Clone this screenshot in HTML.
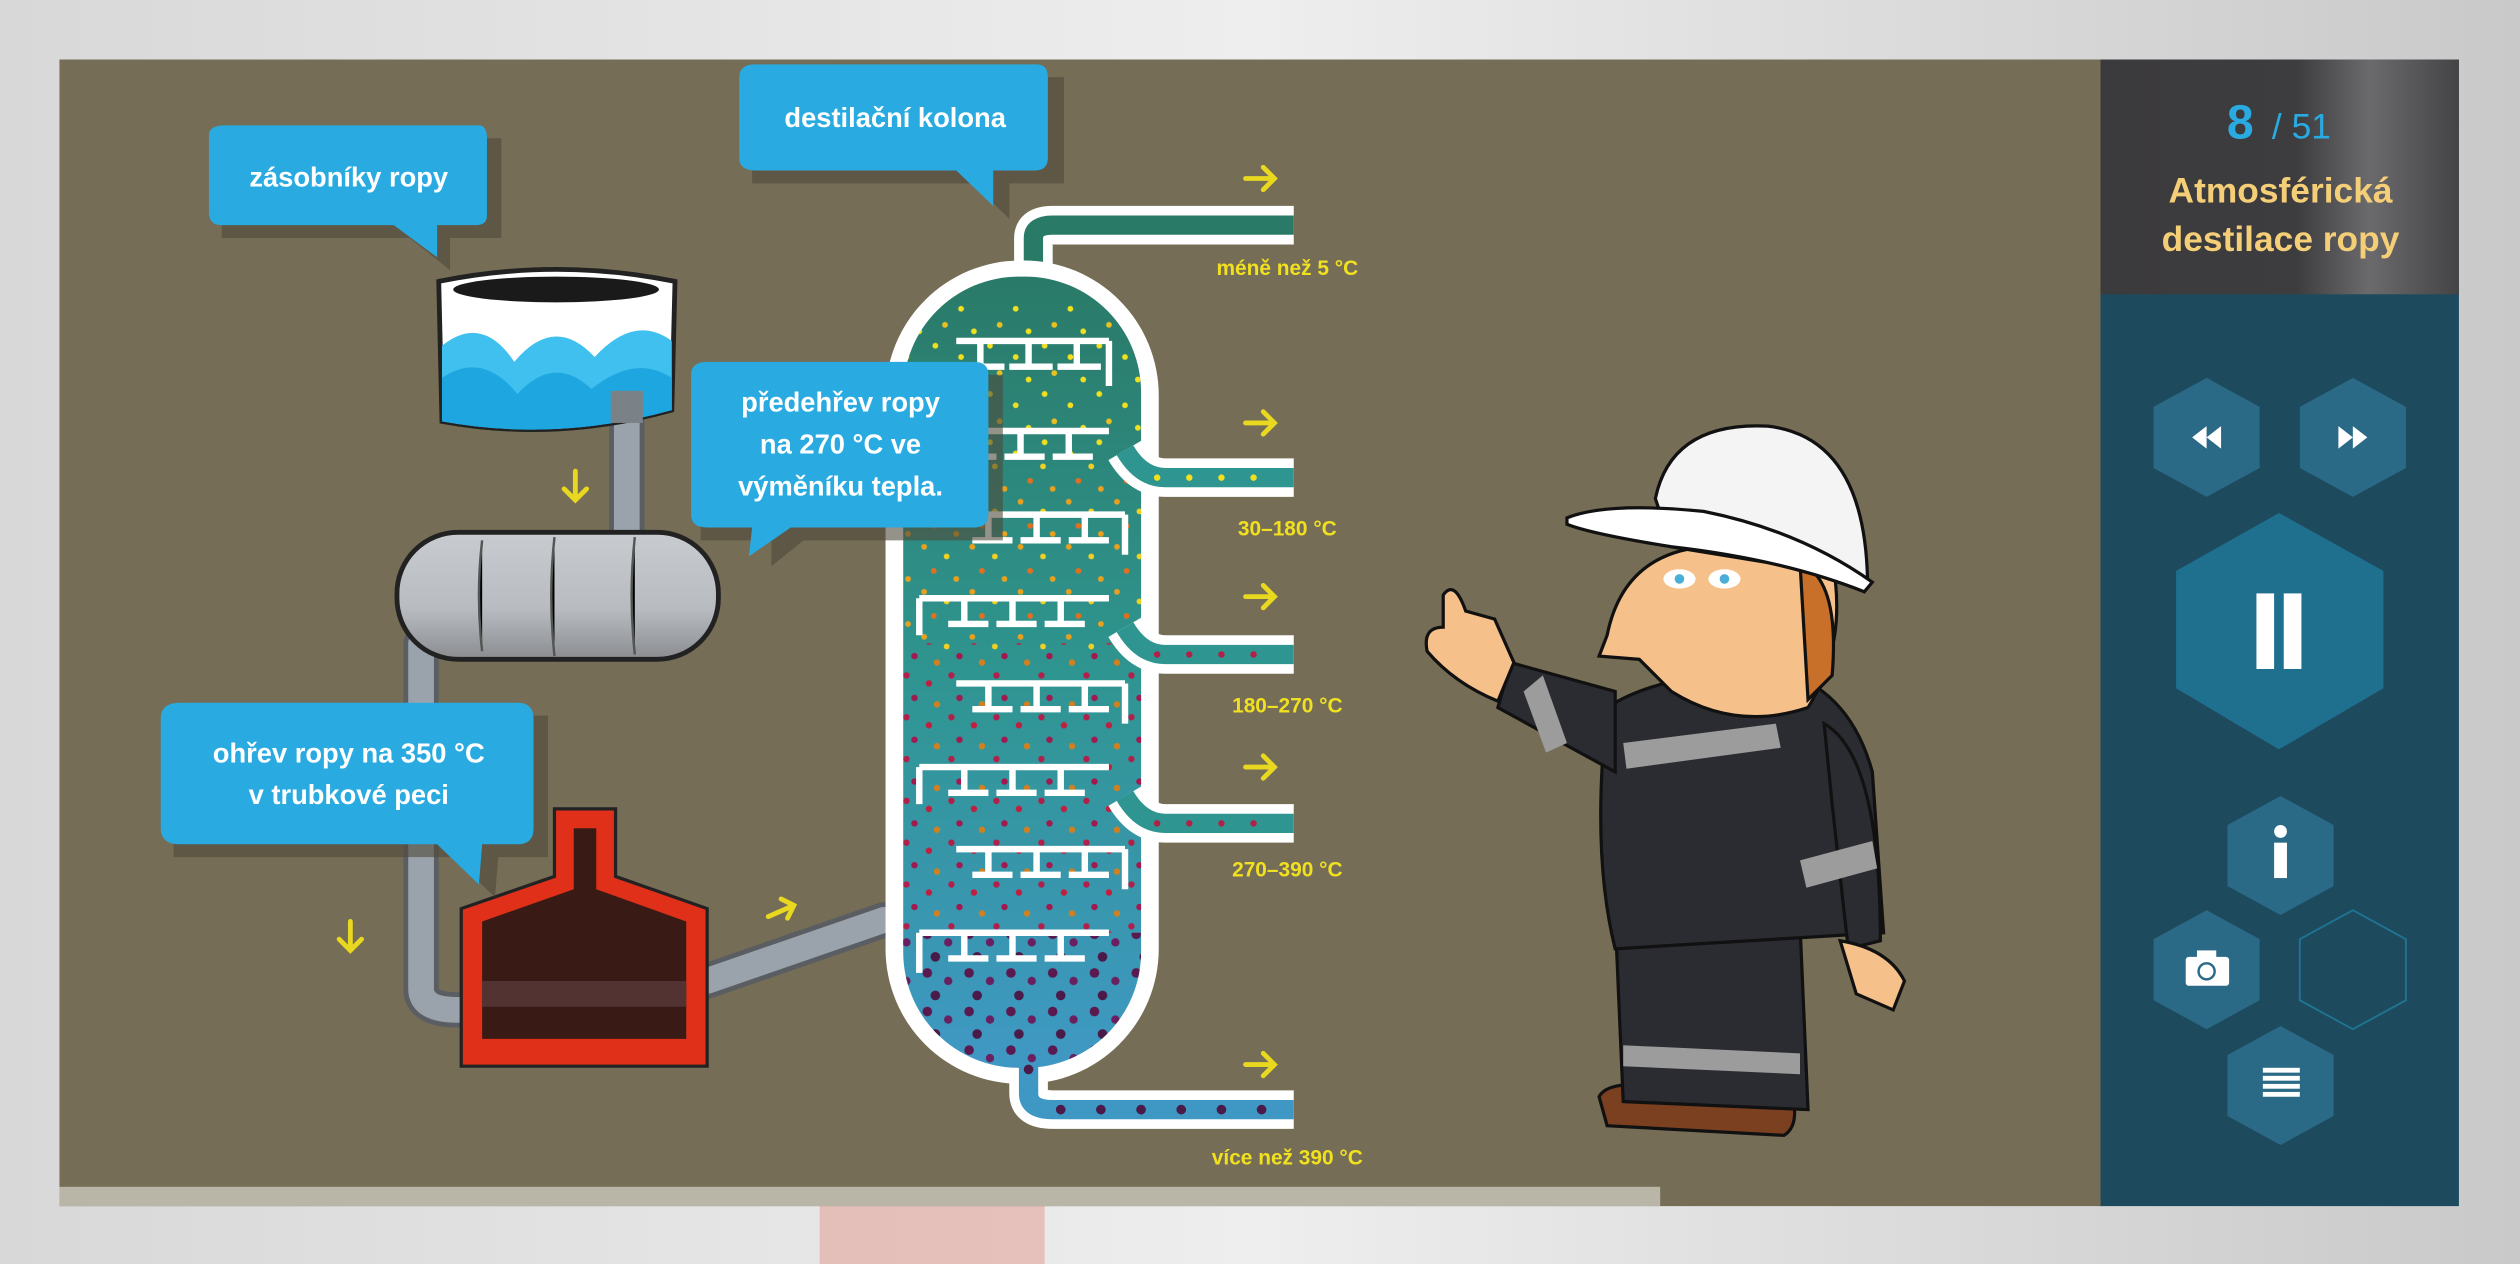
<!DOCTYPE html>
<html><head><meta charset="utf-8"><style>
html,body{margin:0;padding:0;width:2520px;height:1264px;overflow:hidden;background:#dcdcdc}
svg{display:block}
text{font-family:"Liberation Sans",sans-serif;font-weight:bold}
</style></head><body>
<svg width="2520" height="1264" viewBox="0 0 1568 786" preserveAspectRatio="none" xmlns="http://www.w3.org/2000/svg">
<defs>
<linearGradient id="bg" x1="0" y1="0" x2="1" y2="0"><stop offset="0" stop-color="#d8d8d8"/><stop offset=".5" stop-color="#eeeeee"/><stop offset="1" stop-color="#c9c9c9"/></linearGradient>
<linearGradient id="col" x1="0" y1="0" x2="0" y2="1"><stop offset="0" stop-color="#2a7a68"/><stop offset=".5" stop-color="#2f9590"/><stop offset="1" stop-color="#3f98c4"/></linearGradient>
<linearGradient id="hdr" x1="0" y1="0" x2="1" y2="0"><stop offset="0" stop-color="#3b3a3c"/><stop offset=".55" stop-color="#3d3c3e"/><stop offset=".75" stop-color="#6b6a6c"/><stop offset="1" stop-color="#444345"/></linearGradient>
<linearGradient id="tank" x1="0" y1="0" x2="0" y2="1"><stop offset="0" stop-color="#c8ccd0"/><stop offset=".6" stop-color="#b8bcc0"/><stop offset="1" stop-color="#8a8c90"/></linearGradient>
<pattern id="py" width="34" height="30" patternUnits="userSpaceOnUse"><circle cx="4" cy="5" r="1.8" fill="#f0e020"/><circle cx="20" cy="12" r="1.8" fill="#f0e020"/><circle cx="10" cy="22" r="1.8" fill="#e8c020"/><circle cx="28" cy="26" r="1.8" fill="#f0e020"/></pattern>
<pattern id="po" width="30" height="28" patternUnits="userSpaceOnUse"><circle cx="5" cy="4" r="1.8" fill="#e8a020"/><circle cx="19" cy="10" r="1.8" fill="#f0d020"/><circle cx="11" cy="19" r="1.8" fill="#e07020"/><circle cx="25" cy="24" r="1.8" fill="#e8a020"/></pattern>
<pattern id="pr" width="28" height="26" patternUnits="userSpaceOnUse"><circle cx="4" cy="4" r="2" fill="#b0204a"/><circle cx="18" cy="9" r="2" fill="#c02040"/><circle cx="9" cy="18" r="2" fill="#a01a50"/><circle cx="23" cy="22" r="2" fill="#d08020"/></pattern>
<pattern id="pp" width="26" height="24" patternUnits="userSpaceOnUse"><circle cx="5" cy="5" r="3" fill="#5a1a50"/><circle cx="18" cy="10" r="2.6" fill="#6a2060"/><circle cx="10" cy="19" r="3" fill="#4a1a48"/></pattern>
<clipPath id="cc"><rect x="562" y="172" width="148" height="492" rx="72"/></clipPath>
</defs>
<rect width="1568" height="786" fill="url(#bg)"/>
<rect x="510" y="745" width="140" height="41" fill="#e3a39a" opacity=".6"/>
<rect x="37" y="37" width="1271" height="713" fill="#756d55"/>
<rect x="37" y="738" width="996" height="12" fill="#b9b6a8"/>

<g stroke="#5a5e62" stroke-width="22" fill="none" stroke-linecap="round"><path d="M390 250 V335"/><path d="M262 400 V615 Q262 628 285 628"/><path d="M440 610 L550 572"/></g>
<g stroke="#9aa3ab" stroke-width="16" fill="none" stroke-linecap="round"><path d="M390 250 V335"/><path d="M262 400 V615 Q262 628 285 628"/><path d="M440 610 L550 572"/></g>

<path d="M273 175 Q346 160 420 175 L418 255 Q346 275 275 262 Z" fill="#fff" stroke="#222" stroke-width="3"/>
<path d="M275 215 Q300 195 320 225 Q345 195 370 222 Q395 195 418 212 L418 255 Q346 275 275 262 Z" fill="#3fc0ee"/>
<path d="M275 235 Q300 218 322 245 Q345 220 368 242 Q395 220 418 235 L418 255 Q346 275 275 262 Z" fill="#1ea6e0"/>
<ellipse cx="346" cy="180" rx="64" ry="8" fill="#1a1a1a"/>
<rect x="380" y="243" width="20" height="20" fill="#7a8288"/>

<rect x="247" y="331" width="200" height="79" rx="38" fill="url(#tank)" stroke="#222" stroke-width="3"/>
<g stroke="#555" stroke-width="1.5"><path d="M300 336 Q296 370 300 405"/><path d="M345 334 Q341 370 345 408"/><path d="M395 334 Q391 370 395 407"/></g>

<path d="M345 503 L383 503 L383 545 L440 565 L440 663 L287 663 L287 565 L345 545 Z" fill="#e0301a" stroke="#222" stroke-width="2"/>
<path d="M357 515 L371 515 L371 553 L427 573 L427 646 L300 646 L300 573 L357 553 Z" fill="#3a1a14"/>
<rect x="300" y="610" width="127" height="16" fill="#5a3a3a" opacity=".8"/>

<path d="M643 170 V148 Q643 140 655 140 H805" stroke="#fff" stroke-width="24" fill="none"/>
<path d="M643 172 V148 Q643 140 655 140 H805" stroke="#2a7a68" stroke-width="12" fill="none"/>
<path d="M640 640 V680 Q640 690 655 690 H805" stroke="#fff" stroke-width="24" fill="none"/>
<rect x="551" y="162" width="170" height="512" rx="84" fill="#fff"/>
<path d="M640 640 V680 Q640 690 655 690 H805" stroke="#3f98c4" stroke-width="12" fill="none"/>
<rect x="562" y="172" width="148" height="492" rx="72" fill="url(#col)"/>
<g clip-path="url(#cc)">
<rect x="560" y="190" width="160" height="100" fill="url(#py)"/>
<rect x="560" y="285" width="160" height="120" fill="url(#po)"/>
<rect x="560" y="400" width="160" height="180" fill="url(#pr)"/>
<rect x="560" y="580" width="160" height="100" fill="url(#pp)"/>
<g stroke="#fff" stroke-width="4" fill="none">
<path d="M595 212 H690 M610 212 V228 M640 212 V228 M670 212 V228 M600 228 H625 M628 228 H655 M658 228 H685 M690 212 V240"/>
<path d="M585 268 H690 M605 268 V284 M635 268 V284 M665 268 V284 M596 284 H620 M625 284 H650 M655 284 H680 M585 268 V290"/>
<path d="M595 320 H700 M615 320 V336 M645 320 V336 M675 320 V336 M605 336 H630 M635 336 H660 M665 336 H690 M700 320 V345"/>
<path d="M572 372 H690 M600 372 V388 M630 372 V388 M660 372 V388 M590 388 H615 M620 388 H645 M650 388 H675 M572 372 V395"/>
<path d="M595 425 H700 M615 425 V441 M645 425 V441 M675 425 V441 M605 441 H630 M635 441 H660 M665 441 H690 M700 425 V450"/>
<path d="M572 477 H690 M600 477 V493 M630 477 V493 M660 477 V493 M590 493 H615 M620 493 H645 M650 493 H675 M572 477 V500"/>
<path d="M595 528 H700 M615 528 V544 M645 528 V544 M675 528 V544 M605 544 H630 M635 544 H660 M665 544 H690 M700 528 V553"/>
<path d="M572 580 H690 M600 580 V596 M630 580 V596 M660 580 V596 M590 596 H615 M620 596 H645 M650 596 H675 M572 580 V605"/>
</g></g>
<g stroke="#fff" stroke-width="24" fill="none"><path d="M700 280 Q710 297 725 297 H805"/><path d="M700 390 Q710 407 725 407 H805"/><path d="M700 495 Q710 512 725 512 H805"/></g>
<g stroke="#2f9590" stroke-width="12" fill="none"><path d="M700 280 Q710 297 725 297 H805"/><path d="M700 390 Q710 407 725 407 H805"/><path d="M700 495 Q710 512 725 512 H805"/></g>
<g fill="#f0e020"><circle cx="720" cy="297" r="2"/><circle cx="740" cy="297" r="2"/><circle cx="760" cy="297" r="2"/><circle cx="780" cy="297" r="2"/></g>
<g fill="#b0204a"><circle cx="720" cy="407" r="2"/><circle cx="740" cy="407" r="2"/><circle cx="760" cy="407" r="2"/><circle cx="780" cy="407" r="2"/><circle cx="720" cy="512" r="2"/><circle cx="740" cy="512" r="2"/><circle cx="760" cy="512" r="2"/><circle cx="780" cy="512" r="2"/></g>
<g fill="#4a1a48"><circle cx="640" cy="665" r="3"/><circle cx="660" cy="690" r="3"/><circle cx="685" cy="690" r="3"/><circle cx="710" cy="690" r="3"/><circle cx="735" cy="690" r="3"/><circle cx="760" cy="690" r="3"/><circle cx="785" cy="690" r="3"/></g>

<g stroke="#e8d820" stroke-width="3" fill="none" stroke-linecap="round">
<path d="M775 111 H793 M786 104 L793 111 L786 118"/><path d="M775 263 H793 M786 256 L793 263 L786 270"/><path d="M775 371 H793 M786 364 L793 371 L786 378"/><path d="M775 477 H793 M786 470 L793 477 L786 484"/><path d="M775 662 H793 M786 655 L793 662 L786 669"/>
<path d="M358 293 V311 M351 304 L358 311 L365 304"/><path d="M218 573 V591 M211 584 L218 591 L225 584"/><path d="M478 570 L494 563 M486 559 L494 563 L490 571"/>
</g>
<g fill="#f0e020" font-size="13" text-anchor="middle"><text x="801" y="171">méně než 5 °C</text><text x="801" y="333">30–180 °C</text><text x="801" y="443">180–270 °C</text><text x="801" y="545">270–390 °C</text><text x="801" y="724">více než 390 °C</text></g>

<g fill="#4f4a3a" opacity=".6"><path d="M138 86 H312 V148 H280 L280 168 L255 148 H138 Z"/><path d="M468 48 H662 V114 H628 L628 136 L605 114 H468 Z"/><path d="M436 233 H624 V336 H500 L480 352 L480 336 H436 Z"/><path d="M108 445 H341 V533 H310 L308 558 L282 533 H108 Z"/></g>
<g fill="#29abe2"><path d="M130 84 Q130 78 140 78 H298 Q303 78 303 86 V134 Q303 140 296 140 H272 L272 160 L245 140 H138 Q130 140 130 132 Z"/>
<path d="M460 48 Q460 40 470 40 H645 Q652 40 652 48 V98 Q652 106 644 106 H618 L618 128 L595 106 H470 Q460 106 460 98 Z"/>
<path d="M430 233 Q430 225 440 225 H606 Q615 225 615 233 V320 Q615 328 606 328 H492 L466 346 L468 328 H440 Q430 328 430 320 Z"/>
<path d="M100 447 Q100 437 112 437 H322 Q332 437 332 447 V515 Q332 525 322 525 H300 L298 550 L272 525 H112 Q100 525 100 515 Z"/></g>
<g fill="#fff" font-size="17" text-anchor="middle"><text x="217" y="116">zásobníky ropy</text><text x="557" y="79">destilační kolona</text><text x="523" y="256">předehřev ropy</text><text x="523" y="282">na 270 °C ve</text><text x="523" y="308">výměníku tepla.</text><text x="217" y="474">ohřev ropy na 350 °C</text><text x="217" y="500">v trubkové peci</text></g>

<g stroke="#111" stroke-width="2">
<path d="M995 682 Q1000 672 1030 675 L1115 680 Q1120 700 1110 706 L1000 700 Z" fill="#7a4020"/>
<path d="M1005 570 L1120 575 L1125 690 L1010 685 Z" fill="#2b2b32"/>
<path d="M1000 440 Q1030 420 1100 415 Q1150 425 1165 480 L1172 580 L1005 590 Q990 530 1000 440 Z" fill="#2b2b32"/>
<path d="M940 412 L1005 430 L1005 480 L932 440 Z" fill="#2b2b32"/>
<path d="M1135 450 Q1170 470 1170 585 L1150 590 L1140 500 Z" fill="#2b2b32"/>
<path d="M1145 585 Q1175 590 1185 610 L1178 628 L1155 618 Z" fill="#f5c08a"/>
<path d="M898 370 Q905 360 912 380 L930 385 L942 412 L932 436 Q905 425 888 405 Q885 390 898 390 Z" fill="#f5c08a"/>
<path d="M1000 395 Q1010 345 1060 340 L1140 348 Q1150 400 1125 440 Q1080 455 1040 430 L1020 410 L995 408 Z" fill="#f5c08a"/>
<path d="M1120 350 Q1145 360 1140 420 L1125 435 Z" fill="#c8702a"/>
<path d="M1030 310 Q1040 262 1100 265 Q1160 272 1162 360 L1040 340 Z" fill="#f4f4f4"/>
<path d="M975 322 Q1000 312 1060 318 Q1120 330 1165 362 L1160 368 Q1110 348 1040 340 Q990 332 975 326 Z" fill="#ffffff"/>
</g>
<g fill="#9c9c9c"><path d="M948 430 L960 420 L975 462 L962 468 Z"/><path d="M1010 462 L1105 450 L1108 465 L1012 478 Z"/><path d="M1120 535 L1165 523 L1168 540 L1124 552 Z"/><path d="M1010 650 L1120 655 L1120 668 L1010 663 Z"/></g>
<g fill="#fff"><ellipse cx="1045" cy="360" rx="10" ry="6"/><ellipse cx="1073" cy="360" rx="10" ry="6"/></g>
<g fill="#4aaed8"><circle cx="1045" cy="360" r="3"/><circle cx="1073" cy="360" r="3"/></g>

<rect x="1307" y="37" width="223" height="713" fill="#1e4a5e"/>
<rect x="1307" y="37" width="223" height="146" fill="url(#hdr)"/>
<text x="1394" y="86" font-size="30" fill="#29abe2" text-anchor="middle">8</text>
<text x="1432" y="86" font-size="22" fill="#29abe2" text-anchor="middle" style="font-weight:normal">/ 51</text>
<g fill="#f5cf78" font-size="22" text-anchor="middle"><text x="1419" y="126">Atmosférická</text><text x="1419" y="156">destilace ropy</text></g>
<g fill="#2a6a86">
<path d="M1373 235 L1406 253 L1406 291 L1373 309 L1340 291 L1340 253 Z"/>
<path d="M1464 235 L1497 253 L1497 291 L1464 309 L1431 291 L1431 253 Z"/>
<path d="M1419 495 L1452 513 L1452 551 L1419 569 L1386 551 L1386 513 Z"/>
<path d="M1373 566 L1406 584 L1406 622 L1373 640 L1340 622 L1340 584 Z"/>
<path d="M1419 638 L1452 656 L1452 694 L1419 712 L1386 694 L1386 656 Z"/>
</g>
<path d="M1464 566 L1497 584 L1497 622 L1464 640 L1431 622 L1431 584 Z" fill="none" stroke="#1f7393" stroke-width="1.2"/>
<path d="M1418 319 L1483 355 L1483 428 L1418 466 L1354 428 L1354 355 Z" fill="#1f6f8f"/>
<g fill="#fff">
<rect x="1404" y="369" width="11" height="47"/><rect x="1421" y="369" width="11" height="47"/>
<path d="M1364 272 L1373 265 L1373 279 Z M1373 272 L1382 265 L1382 279 Z"/>
<path d="M1473 272 L1464 265 L1464 279 Z M1464 272 L1455 265 L1455 279 Z"/>
<rect x="1415" y="524" width="8" height="22"/><circle cx="1419" cy="517" r="4"/>
<rect x="1360" y="595" width="27" height="18" rx="2"/><rect x="1367" y="591" width="12" height="5"/>
<rect x="1408" y="664" width="23" height="3"/><rect x="1408" y="669" width="23" height="3"/><rect x="1408" y="674" width="23" height="3"/><rect x="1408" y="679" width="23" height="3"/>
</g>
<circle cx="1373" cy="604" r="5" fill="none" stroke="#2a6a86" stroke-width="1.5"/>
</svg>
</body></html>
